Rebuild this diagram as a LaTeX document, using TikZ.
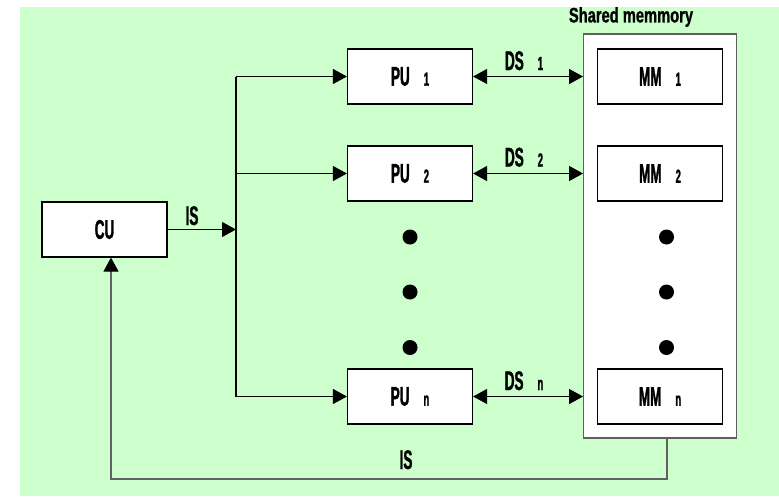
\documentclass[tikz,border=0pt]{standalone}
\usepackage{fontspec}
\setmainfont{Liberation Sans}
\newfontfamily\gothic[FakeStretch=0.5,FakeBold=1.2]{Liberation Sans}
\newfontfamily\gothictitle[FakeStretch=0.7,FakeBold=1]{Liberation Sans}
\usetikzlibrary{arrows.meta,positioning}
\definecolor{bggreen}{HTML}{CCFFCC}
\definecolor{shmgray}{HTML}{606060}
\newcommand\idx[2]{#1\hspace{7pt}{\fontsize{9.5}{10}\selectfont #2}}

\begin{document}
\begin{tikzpicture}[x=0.5pt,y=-0.5pt,>={Triangle[length=7pt,width=7.5pt,color=black]},
every node/.style={font=\gothic\bfseries\fontsize{13.5}{14}\selectfont},
box/.style={draw=black,fill=white,line width=0.6pt,minimum width=62.5pt,minimum height=27.5pt,inner sep=0pt},
arr/.style={->,line width=0.6pt,draw=black},
lab/.style={anchor=base,inner sep=0pt}]
\useasboundingbox (0,0) rectangle (779,498);
\fill[bggreen] (20,7) rectangle (779,496);
% shared memory
\node[draw=shmgray,fill=white,line width=0.7pt,minimum width=76.25pt,minimum height=202pt,inner sep=0pt] (shm) at (660,236) {};
\node[font=\gothictitle\bfseries\fontsize{10.5}{11}\selectfont] (shmtitle) at (631,17) {Shared memmory};
\node[box] (cu) at (104.5,229.5) {CU};
\node[box] (pu1) at (410,76.5) {\idx{PU}{1}};
\node[box] (pu2) at (410,173.5) {\idx{PU}{2}};
\node[box] (pun) at (410,396.5) {\idx{PU}{n}};
\node[box] (mm1) at (660,76.5) {\idx{MM}{1}};
\node[box] (mm2) at (660,173.5) {\idx{MM}{2}};
\node[box] (mmn) at (660,396.5) {\idx{MM}{n}};
% dots
\foreach \y in {237,292,347.5} {
  \fill (410,\y) circle (3.75pt);
  \fill (666.5,\y) circle (3.75pt);
}
% instruction bus
\coordinate (bus) at (236,229.5);
\draw[arr] (cu.east) -- (bus);
\draw[line width=0.6pt] (bus |- pu1.west) -- (bus |- pun.west);
\foreach \p in {pu1,pu2,pun}
  \draw[arr] (bus |- \p.west) -- (\p.west);
\node[lab] (is1) at (192,225) {IS};
% data streams
\draw[arr,<->] (pu1.east) -- (pu1.east -| shm.west);
\draw[arr,<->] (pu2.east) -- (pu2.east -| shm.west);
\draw[arr,<->] (pun.east) -- (pun.east -| shm.west);
\node[lab] (ds1) at (524,70) {\idx{DS}{1}};
\node[lab] (ds2) at (524,166.5) {\idx{DS}{2}};
\node[lab] (dsn) at (524,390) {\idx{DS}{n}};
% feedback
\coordinate (fbR) at (667,479);
\coordinate (fbL) at (111,479);
\draw[arr,draw=shmgray] (shm.south -| fbR) -- (fbR) -- (fbL) -- (cu.south -| fbL);
\node[lab] (is2) at (406,469) {IS};
\end{tikzpicture}
\end{document}
